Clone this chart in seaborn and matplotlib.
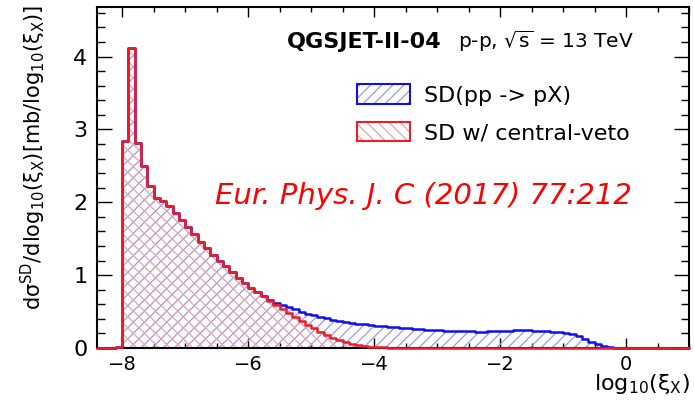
import numpy as np
import pandas as pd
import matplotlib
matplotlib.use('Agg')
import matplotlib.pyplot as plt
import matplotlib.patches as mpatches
from matplotlib.legend_handler import HandlerTuple
from matplotlib.ticker import MultipleLocator
import seaborn as sns

# histogram binning: 0.1 wide bins in log10(xi_X) over the full axis range
bin_range = (-8.4, 1.0)
bin_width = 0.1
first_left = -8.1  # left edge of the first non-empty bin

# SD(pp -> pX), bins from -8.1 to -0.1 (left edges)
sd_all = [0.02, 2.84, 4.12, 2.81, 2.50, 2.22, 2.06, 2.02, 1.95, 1.85,
          1.75, 1.66, 1.56, 1.46, 1.37, 1.28, 1.20, 1.12, 1.04, 0.96,
          0.89, 0.83, 0.77, 0.71, 0.66, 0.62, 0.59, 0.56, 0.53, 0.50,
          0.47, 0.45, 0.43, 0.405, 0.385, 0.37, 0.36, 0.345, 0.335, 0.325,
          0.315, 0.305, 0.298, 0.29, 0.284, 0.278, 0.272, 0.265, 0.258, 0.252,
          0.246, 0.242, 0.238, 0.234, 0.232, 0.229, 0.227, 0.226, 0.226, 0.227,
          0.229, 0.232, 0.236, 0.241, 0.246, 0.244, 0.239, 0.234, 0.228, 0.222,
          0.213, 0.202, 0.186, 0.160, 0.125, 0.088, 0.055, 0.030, 0.014, 0.005,
          0.001]

# SD with central veto, bins from -8.1 to -3.6 (left edges)
sd_veto = [0.02, 2.84, 4.12, 2.81, 2.50, 2.22, 2.06, 2.02, 1.95, 1.85,
           1.75, 1.66, 1.56, 1.46, 1.37, 1.28, 1.20, 1.12, 1.04, 0.96,
           0.89, 0.83, 0.77, 0.71, 0.65, 0.59, 0.53, 0.48, 0.42, 0.37,
           0.32, 0.27, 0.22, 0.175, 0.135, 0.105, 0.078, 0.057, 0.040, 0.027,
           0.018, 0.011, 0.007, 0.004, 0.002, 0.001]

labels = ['SD(pp -> pX)', 'SD w/ central-veto']
line_colors = ['#1010e8', '#ee1c24']
hatch_colors = ['#9a9ae8', '#f0a0a8']
hatches = ['///', '\\\\\\']


def to_frame(vals):
    return pd.DataFrame({'xi': first_left + 0.05 + bin_width * np.arange(len(vals)),
                         'w': vals})


sns.set_style('ticks')
plt.rcParams['font.family'] = ['DejaVu Sans']
plt.rcParams['mathtext.default'] = 'regular'
plt.rcParams['hatch.linewidth'] = 0.9
for key in ['text.color', 'axes.labelcolor', 'xtick.color', 'ytick.color']:
    plt.rcParams[key] = 'black'

fig = plt.figure(figsize=(6.94, 4.03), dpi=100)
ax = fig.add_axes([97 / 694, 1 - 348 / 403, (689 - 97) / 694, (348 - 7) / 403])

series = [to_frame(sd_all), to_frame(sd_veto)]
for df, hc, h in zip(series, hatch_colors, hatches):
    sns.histplot(data=df, x='xi', weights='w', binwidth=bin_width,
                 binrange=bin_range, element='step', fill=True, color=hc,
                 facecolor='none', edgecolor=hc, linewidth=0, hatch=h, ax=ax)
for df, lc in zip(series, line_colors):
    sns.histplot(data=df, x='xi', weights='w', binwidth=bin_width,
                 binrange=bin_range, element='step', fill=False, color=lc,
                 linewidth=1.8, zorder=3, clip_on=False, ax=ax)

ax.set_xlim(-8.4, 1.0)
ax.set_ylim(0, 4.68)
ax.set_xlabel('')
ax.set_ylabel('')
ax.xaxis.set_major_locator(MultipleLocator(2))
ax.xaxis.set_minor_locator(MultipleLocator(0.5))
ax.yaxis.set_major_locator(MultipleLocator(1))
ax.yaxis.set_minor_locator(MultipleLocator(0.2))
ax.tick_params(which='both', direction='in', top=True, right=True, width=1.0)
ax.tick_params(axis='x', which='major', length=7, labelsize=14, pad=5)
ax.tick_params(axis='x', which='minor', length=3.5)
ax.tick_params(axis='y', which='major', length=11, labelsize=16, pad=7)
ax.tick_params(axis='y', which='minor', length=6)
for sp in ax.spines.values():
    sp.set_linewidth(1.5)
    sp.set_color('black')

fig.text(690 / 694, 1 - 390 / 403, r'log$_{10}$($\xi_{X}$)', ha='right',
         va='baseline', fontsize=16)
fig.text(33 / 694, 1 - 5 / 403,
         r'd$\sigma^{SD}$/dlog$_{10}$($\xi_{X}$)[mb/log$_{10}$($\xi_{X}$)]',
         rotation=90, ha='center', va='top', fontsize=15)

fig.text(287 / 694, 1 - 48.5 / 403, 'QGSJET-II-04', fontweight='bold',
         fontsize=16, ha='left', va='baseline')
fig.text(458 / 694, 1 - 48.5 / 403, r'p-p, $\sqrt{s}$ = 13 TeV',
         fontsize=14.5, ha='left', va='baseline')
fig.text(215 / 694, 1 - 203.5 / 403, 'Eur. Phys. J. C (2017) 77:212',
         color='red', style='italic', fontsize=21, ha='left', va='baseline')

handles = []
for lc, hc, h in zip(line_colors, hatch_colors, hatches):
    fill = mpatches.Patch(facecolor='white', edgecolor=hc, linewidth=0, hatch=h)
    edge = mpatches.Patch(facecolor='none', edgecolor=lc, linewidth=1.5)
    handles.append((fill, edge))
fig.legend(handles, labels, handler_map={tuple: HandlerTuple(ndivide=1, pad=0)},
           loc='upper left', bbox_to_anchor=(357 / 694, 1 - 84 / 403),
           frameon=False, fontsize=16, handlelength=2.4, handleheight=1.0,
           handletextpad=0.63, labelspacing=0.72, borderpad=0, borderaxespad=0)

fig.savefig('out.png', dpi=100)
